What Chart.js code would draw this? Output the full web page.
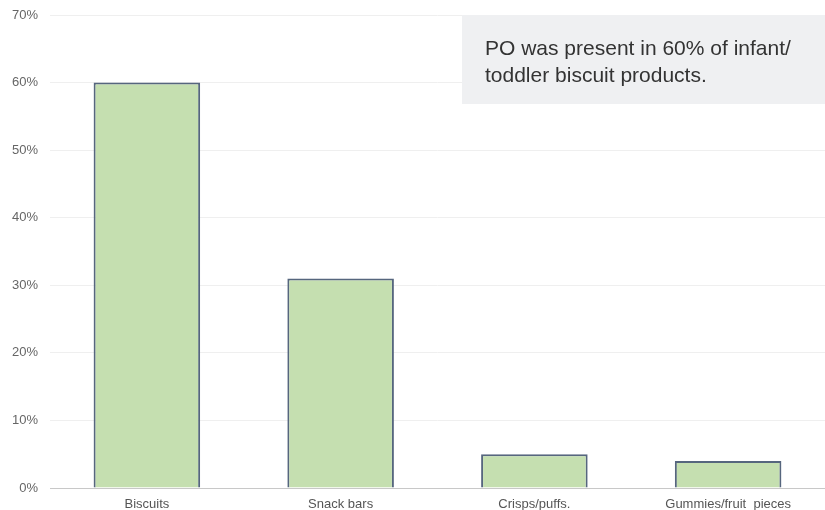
<!DOCTYPE html>
<html>
<head>
<meta charset="utf-8">
<script src="https://cdn.jsdelivr.net/npm/chart.js@4"></script>
<style>
  html, body { margin: 0; padding: 0; background: #fff; }
  #wrap { width: 825px; height: 510px; }
</style>
</head>
<body>
<div id="wrap"><canvas id="chart"></canvas></div>
<script>
// data
const categories = ['Biscuits', 'Snack bars', 'Crisps/puffs.', 'Gummies/fruit  pieces'];
const shares = [60, 31, 5, 4];
const yTicks = [0, 10, 20, 30, 40, 50, 60, 70];
const noteLines = ['PO was present in 60% of infant/', 'toddler biscuit products.'];

// grey note box in the top right corner
const notePlugin = {
  id: 'note',
  afterDatasetsDraw(chart) {
    const { ctx, chartArea } = chart;
    const left = chartArea.left + 412;
    const top = chartArea.top;
    ctx.save();
    ctx.fillStyle = '#eff0f2';
    ctx.fillRect(left, top, chartArea.right - left, 89);
    ctx.fillStyle = '#333';
    ctx.font = '21px "Liberation Sans", Arial, sans-serif';
    ctx.textBaseline = 'alphabetic';
    noteLines.forEach((line, i) => ctx.fillText(line, left + 23, top + 40 + i * 27));
    ctx.restore();
  }
};

const chart = new Chart(document.getElementById('chart'), {
  type: 'bar',
  data: {
    labels: categories,
    datasets: [{
      data: shares,
      backgroundColor: '#c5dfb0',
      borderColor: '#56667e',
      borderWidth: 2,
      categoryPercentage: 1,
      barPercentage: 0.55,
    }],
  },
  plugins: [notePlugin],
  options: {
    responsive: true,
    maintainAspectRatio: false,
    animation: false,
    layout: { padding: { top: 15, right: 0, left: 0, bottom: 0 } },
    plugins: { legend: { display: false }, tooltip: { enabled: false } },
    scales: {
      x: {
        grid: { display: false },
        border: { color: '#c8c8c8', width: 1 },
        ticks: {
          color: '#555',
          font: { family: '"Liberation Sans", Arial, sans-serif', size: 13 },
          padding: 1,
          maxRotation: 0,
        },
        afterFit(scale) { scale.height = 22; },
      },
      y: {
        min: 0,
        max: 70,
        afterBuildTicks(scale) { scale.ticks = yTicks.map(v => ({ value: v })); },
        grid: {
          color: '#efefef',
          drawTicks: false,
        },
        border: { display: false },
        ticks: {
          color: '#666',
          font: { family: '"Liberation Sans", Arial, sans-serif', size: 13 },
          padding: 12,
          callback: v => v + '%',
        },
        afterFit(scale) {
          scale.width = 50;
          scale.paddingTop = 0;
          scale.paddingBottom = 0;
        },
      },
    },
  },
});
</script>
</body>
</html>
